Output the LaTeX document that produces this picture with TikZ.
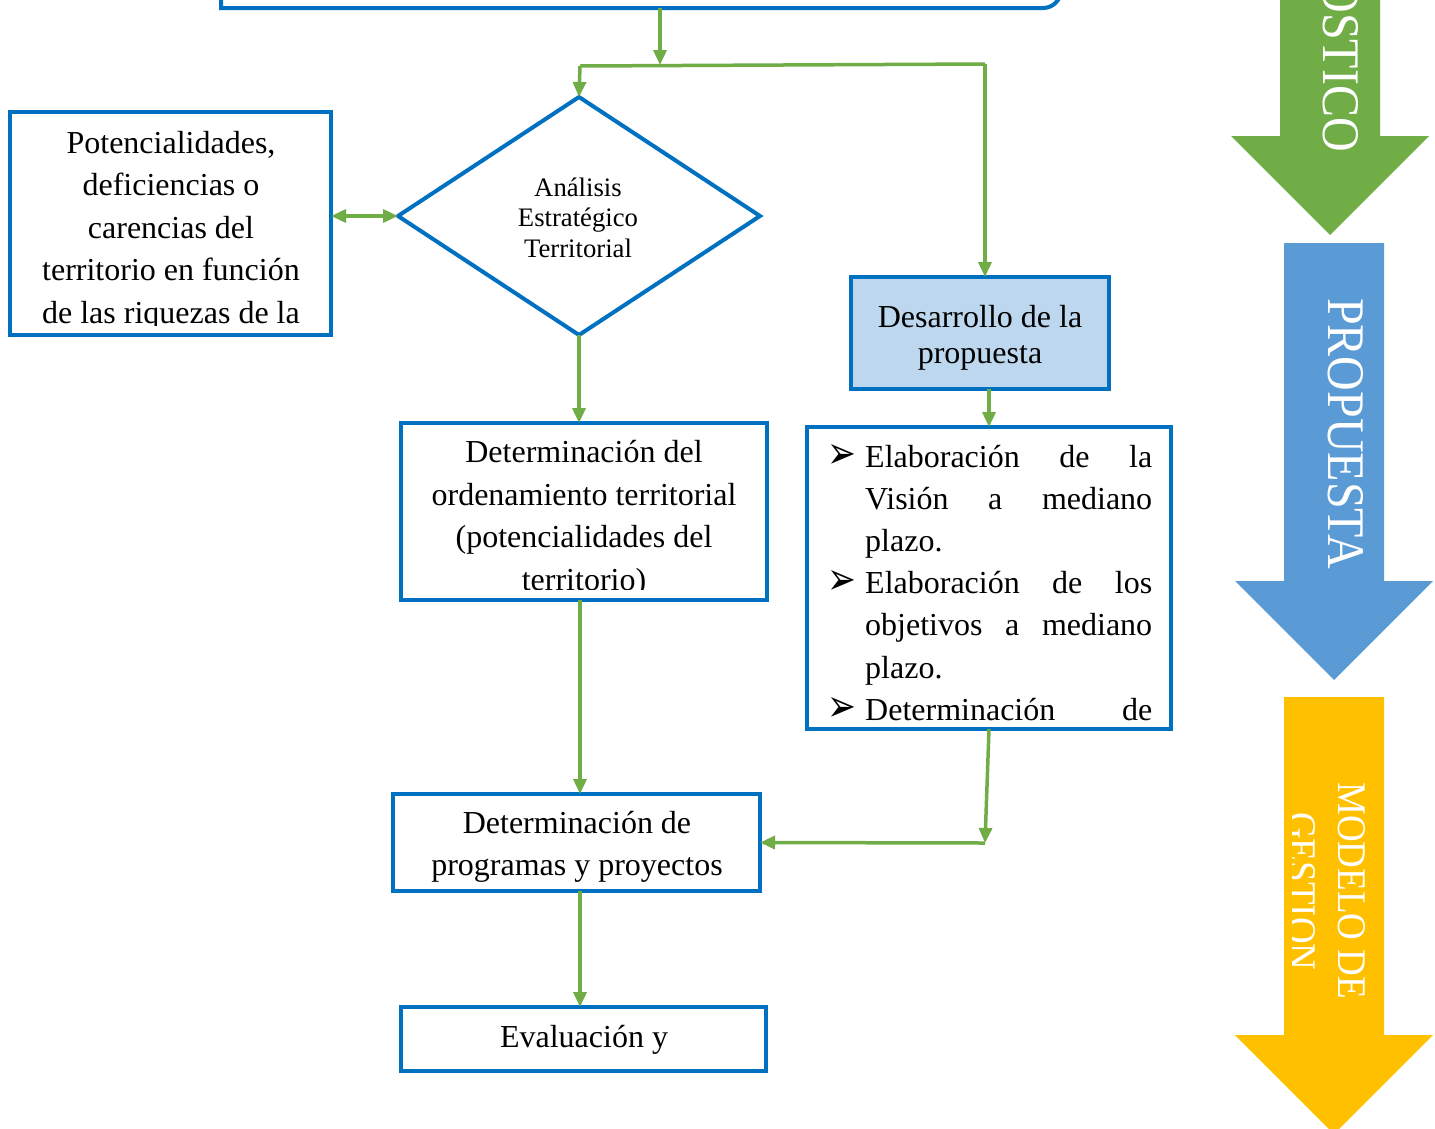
\documentclass[tikz,border=0pt]{standalone}
\usepackage{fontspec}
\setmainfont{Liberation Serif}
\newfontfamily\dejavu{DejaVu Sans}
\usetikzlibrary{arrows.meta,shapes.geometric}
\definecolor{bblue}{HTML}{0070C0}
\definecolor{lgreen}{HTML}{70AD47}
\definecolor{lblue}{HTML}{BDD7EE}
\definecolor{ablue}{HTML}{5B9BD5}
\definecolor{ayellow}{HTML}{FFC000}
\newcommand{\bulmark}{\makebox[35pt][l]{\hspace*{-3pt}\raisebox{-1pt}{\dejavu\fontsize{30}{30}\selectfont\scalebox{1.15}[1.5]{➢}}}}
\newcommand{\bulgap}{\hspace*{35pt}}
\begin{document}
\begin{tikzpicture}[x=1pt,y=-1pt,
  box/.style={draw=bblue, line width=4pt, rectangle, inner sep=0pt, outer sep=0pt},
  conn/.style={draw=lgreen, line width=3.5pt, -{Triangle[length=15pt,width=13pt]}},
  bicon/.style={draw=lgreen, line width=3.5pt, {Triangle[length=15pt,width=13pt]}-{Triangle[length=15pt,width=13pt]}},
  plain/.style={draw=lgreen, line width=3.5pt},
  txt/.style={inner sep=0pt, align=center, font={\fontsize{32}{42.5}\selectfont}},
  arrtxt/.style={inner sep=0pt, text=white, rotate=-90}
]
\clip (0,0) rectangle (1435,1128);

% right-hand big arrows
\fill[lgreen] (1280,-250) -- (1380,-250) -- (1380,136) -- (1429,136) -- (1330,235) -- (1231,136) -- (1280,136) -- cycle;
\fill[ablue] (1284,243) -- (1384,243) -- (1384,581) -- (1433,581) -- (1334,680) -- (1235,581) -- (1284,581) -- cycle;
\fill[ayellow] (1284,697) -- (1384,697) -- (1384,1035) -- (1433,1035) -- (1334,1134) -- (1235,1035) -- (1284,1035) -- cycle;
\node[arrtxt, anchor=base east, font={\fontsize{48}{48}\selectfont}] (diag) at (1323,152) {\scalebox{1}[1.1]{DIAGNOSTICO}};
\node[arrtxt, anchor=base west, font={\fontsize{48}{48}\selectfont}] (prop) at (1328,298) {\scalebox{1}[1.1]{PROPUESTA}};
\node[arrtxt, anchor=base west, font={\fontsize{37}{37}\selectfont}] (mod1) at (1338,782) {\scalebox{1}[1.1]{MODELO DE}};
\begin{scope}
  \clip (1292,700) rectangle (1384,1128);
  \node[arrtxt, anchor=base west, font={\fontsize{37}{37}\selectfont}] (mod2) at (1288,812) {\scalebox{1}[1.1]{GESTION}};
\end{scope}

% top box (partly outside the picture)
\draw[bblue, line width=4pt] (1061,-40) [rounded corners=18pt] -- (1061,8) -- (700,8) [sharp corners] -- (221,8) -- (221,-40);
\coordinate (topS) at (660,8);

% boxes
\node[box, minimum width=321pt, minimum height=223pt] (pot) at (170.5,223.5) {};
\node[draw=bblue, line width=4pt, shape=diamond, inner sep=0pt, outer sep=0pt, minimum width=362pt, minimum height=238pt] (dia) at (579,216) {};
\node[box, minimum width=366pt, minimum height=177pt] (ord) at (584,511.5) {};
\node[box, fill=lblue, minimum width=258pt, minimum height=112pt] (des) at (980,333) {};
\node[box, minimum width=364pt, minimum height=302pt] (bul) at (989,578) {};
\node[box, minimum width=367pt, minimum height=97pt] (prog) at (576.5,842.5) {};
\node[box, minimum width=365pt, minimum height=64pt] (eval) at (583.5,1039) {};

% texts (anchor = baseline of the last line)
\begin{scope}
  \clip (12,114) rectangle (329,325);
  \node[txt, anchor=base] (pott) at (171,323) {Potencialidades,\\deficiencias o\\carencias del\\territorio en función\\de las riquezas de la};
\end{scope}
\node[txt, anchor=base, font={\fontsize{26.7}{30.5}\selectfont}] (diat) at (578,257) {Análisis\\Estratégico\\Territorial};
\begin{scope}
  \clip (403,425) rectangle (765,589);
  \node[txt, anchor=base] (ordt) at (584,590) {Determinación del\\ordenamiento territorial\\(potencialidades del\\territorio)};
\end{scope}
\node[txt, anchor=base, font={\fontsize{32}{36.5}\selectfont}] (dest) at (980,363.5) {Desarrollo de la\\propuesta};
\begin{scope}
  \clip (809,429) rectangle (1169,720);
  \node[txt, align=left, anchor=base west, font={\fontsize{32}{42.2}\selectfont}] (bult) at (830,720.2) {%
    \bulmark\makebox[287pt][s]{Elaboración de la}\\
    \bulgap\makebox[287pt][s]{Visión a mediano}\\
    \bulgap plazo.\\
    \bulmark\makebox[287pt][s]{Elaboración de los}\\
    \bulgap\makebox[287pt][s]{objetivos a mediano}\\
    \bulgap plazo.\\
    \bulmark\makebox[287pt][s]{Determinación de}};
\end{scope}
\node[txt, anchor=base] (progt) at (577,875.5) {Determinación de\\programas y proyectos};
\node[txt, anchor=base] (evalt) at (584,1047) {Evaluación y};

% connectors
\coordinate (J1) at (660,65);
\coordinate (J2L) at (580,66);
\coordinate (J2R) at (985,64);
\coordinate (J3) at (985,843);
\coordinate (xo) at (580,0);
\draw[conn] (topS) -- (J1);
\draw[plain] (J2L) -- (J2R);
\draw[conn] (J2L) -- (dia.north);
\draw[conn] (J2R) -- (J2R |- des.north);
\draw[bicon] (dia.west -| pot.east) -- (dia.west);
\draw[conn] (dia.south) -- (dia.south |- ord.north);
\draw[conn] (bul.north |- des.south) -- (bul.north);
\draw[conn] (bul.south) -- (J3);
\draw[conn] (J3) -- (prog.east);
\draw[conn] (xo |- ord.south) -- (xo |- prog.north);
\draw[conn] (xo |- prog.south) -- (xo |- eval.north);
\end{tikzpicture}
\end{document}
